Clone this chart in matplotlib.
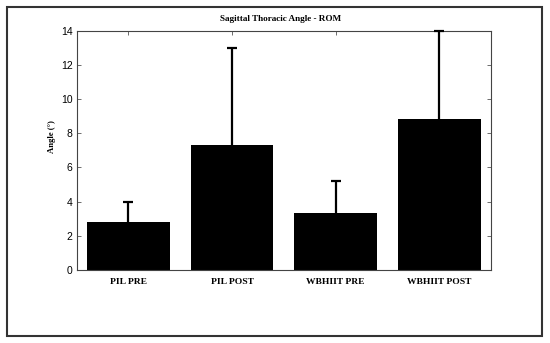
import matplotlib
matplotlib.use('Agg')
from matplotlib import pyplot as plt
from matplotlib.patches import Rectangle

groups = ['PIL PRE', 'PIL POST', 'WBHIIT PRE', 'WBHIIT POST']
means = [2.79, 7.33, 3.35, 8.82]
sd_up = [1.21, 5.64, 1.84, 5.18]
yticks = [0, 2, 4, 6, 8, 10, 12, 14]

W, H = 550, 343
fig = plt.figure(figsize=(W / 100, H / 100), dpi=100)
fig.patch.set_facecolor('white')

# axes box in pixel terms
x0, x1, ytop, ybot = 76.7, 491, 30.7, 270
ax = fig.add_axes([x0 / W, 1 - ybot / H, (x1 - x0) / W, (ybot - ytop) / H])

pos = list(range(1, len(groups) + 1))
ax.bar(pos, means, width=0.8, color='black', zorder=2)
eb = ax.errorbar(pos, means, yerr=[[0] * len(means), sd_up], fmt='none',
                 ecolor='black', elinewidth=1.6, capsize=3.5, capthick=1.6,
                 zorder=3, clip_on=False)
# only the upper caps
eb[1][0].set_visible(False)

ax.set_xlim(0.5, 4.5)
ax.set_ylim(0, 14)
ax.set_xticks(pos)
ax.set_xticklabels(groups, fontfamily='Liberation Serif', fontweight='bold', fontsize=6.8)
ax.set_yticks(yticks)
ax.set_yticklabels([str(v) for v in yticks], fontfamily='Liberation Sans', fontsize=7.5)
ax.tick_params(direction='in', length=3, width=0.6, color='#555555',
               top=True, right=True, pad=3)
ax.tick_params(axis='x', length=3, pad=6)
for s in ax.spines.values():
    s.set_linewidth(0.8)
    s.set_color('#444444')

fig.text(281 / W, 1 - 19 / H, 'Sagittal Thoracic Angle - ROM', ha='center', va='center',
         fontfamily='Liberation Serif', fontweight='bold', fontsize=6.6)
fig.text(52 / W, 1 - 137 / H, 'Angle (°)', ha='center', va='center', rotation=90,
         fontfamily='Liberation Serif', fontweight='bold', fontsize=6.2)

# outer frame
fig.patches.append(Rectangle((7 / W, 1 - 336 / H), (542 - 7) / W, (336 - 7) / H,
                             transform=fig.transFigure, fill=False,
                             edgecolor='#333333', linewidth=1.5))

plt.savefig('out.png', dpi=100)
